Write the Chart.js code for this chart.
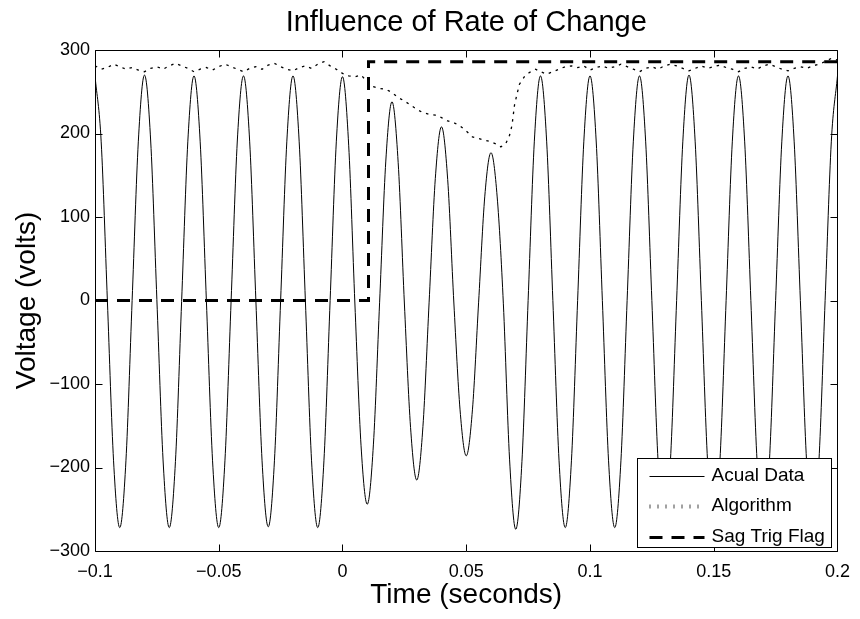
<!DOCTYPE html>
<html><head><meta charset="utf-8">
<script src="https://cdn.jsdelivr.net/npm/chart.js@4.4.0/dist/chart.umd.min.js"></script>
<style>html,body{margin:0;padding:0;background:#fff;}canvas{display:block;}</style>
</head><body>
<canvas id="c" width="860" height="619"></canvas>
<script>
const chartTitle = 'Influence of Rate of Change';
const xTitle = 'Time (seconds)';
const yTitle = 'Voltage (volts)';
const seriesNames = ['Acual Data', 'Algorithm', 'Sag Trig Flag'];
const xTickValues = [-0.1, -0.05, 0, 0.05, 0.1, 0.15, 0.2];
const yTickValues = [-300, -200, -100, 0, 100, 200, 300];

const actualTime = [
  -0.1,-0.0975,-0.095,-0.0925,-0.09,-0.0875,-0.085,-0.0825,
  -0.08,-0.0775,-0.075,-0.0725,-0.07,-0.0675,-0.065,-0.0625,
  -0.06,-0.0575,-0.055,-0.0525,-0.05,-0.0475,-0.045,-0.0425,
  -0.04,-0.0375,-0.035,-0.0325,-0.03,-0.0275,-0.025,-0.0225,
  -0.02,-0.0175,-0.015,-0.0125,-0.01,-0.0075,-0.005,-0.0025,
  0,0.0025,0.005,0.0075,0.01,0.0125,0.015,0.0175,
  0.02,0.0225,0.025,0.0275,0.03,0.0325,0.035,0.0375,
  0.04,0.0425,0.045,0.0475,0.05,0.0525,0.055,0.0575,
  0.06,0.0625,0.065,0.0675,0.07,0.0725,0.075,0.0775,
  0.08,0.0825,0.085,0.0875,0.09,0.0925,0.095,0.0975,
  0.1,0.1025,0.105,0.1075,0.11,0.1125,0.115,0.1175,
  0.12,0.1225,0.125,0.1275,0.13,0.1325,0.135,0.1375,
  0.14,0.1425,0.145,0.1475,0.15,0.1525,0.155,0.1575,
  0.16,0.1625,0.165,0.1675,0.17,0.1725,0.175,0.1775,
  0.18,0.1825,0.185,0.1875,0.19,0.1925,0.195,0.1975,
  0.2
];
const actualVoltage = [
  269,190,0,-192,-272,-192,0,190,
  270,191,1,-191,-272,-193,-1,190,
  269,190,0,-192,-272,-192,0,191,
  269,190,0,-192,-271,-192,0,190,
  269,190,0,-192,-272,-192,0,190,
  268,186,-3,-174,-244,-172,-2,167,
  238,165,-3,-152,-215,-151,-2,146,
  208,145,-3,-131,-186,-131,-2,125,
  177,124,-4,-190,-274,-193,0,190,
  269,190,0,-192,-272,-192,0,190,
  269,191,0,-192,-272,-192,0,190,
  269,190,0,-192,-272,-192,0,190,
  270,190,0,-192,-272,-192,0,190,
  269,190,0,-192,-272,-192,0,190,
  269,190,0,-192,-272,-192,0,190,
  269
];

const algTime = [
  -0.1,-0.0975,-0.095,-0.0925,-0.09,-0.0875,-0.085,-0.0825,
  -0.08,-0.0775,-0.075,-0.0725,-0.07,-0.0675,-0.065,-0.0625,
  -0.06,-0.0575,-0.055,-0.0525,-0.05,-0.0475,-0.045,-0.0425,
  -0.04,-0.0375,-0.035,-0.0325,-0.03,-0.0275,-0.025,-0.0225,
  -0.02,-0.0175,-0.015,-0.0125,-0.01,-0.0075,-0.005,-0.0025,
  0,0.0025,0.005,0.0075,0.01,0.0125,0.015,0.0175,
  0.02,0.0225,0.025,0.0275,0.03,0.0325,0.035,0.0375,
  0.04,0.0425,0.045,0.0475,0.05,0.0525,0.055,0.0575,
  0.06,0.0625,0.064,0.066,0.0675,0.0685,0.069,0.0695,
  0.0705,0.0715,0.0735,0.0755,0.078,0.08,0.0825,0.085,
  0.0875,0.09,0.0925,0.095,0.0975,0.1,0.1025,0.105,
  0.1075,0.11,0.1125,0.115,0.1175,0.12,0.1225,0.125,
  0.1275,0.13,0.1325,0.135,0.1375,0.14,0.1425,0.145,
  0.1475,0.15,0.1525,0.155,0.1575,0.16,0.1625,0.165,
  0.1675,0.17,0.1725,0.175,0.1775,0.18,0.1825,0.185,
  0.1875,0.19,0.1925,0.195,0.1975,0.2
];
const algVoltage = [
  281,277,279,283,280,277,279,276,
  274,278,280,277,281,284,281,278,
  274,277,279,276,280,283,280,277,
  274,278,280,277,282,284,280,277,
  275,279,281,278,283,286,281,277,
  272,269,268,270,262,256,254,253,
  249,243,239,234,229,225,223,222,
  219,215,213,209,203,196,194,192,
  190,187,184,188,198,210,222,234,
  247,259,268,273,277,274,271,274,
  277,280,281,279,281,276,279,281,
  278,280,283,280,277,274,278,280,
  277,281,283,281,278,275,278,281,
  278,280,282,279,277,274,278,280,
  277,281,283,280,277,275,278,280,
  278,281,283,286,290,288
];

const flagTime = [-0.1, 0.0105, 0.0105, 0.2];
const flagValue = [0, 0, 286, 286];

const FONT = '"Liberation Sans", Arial, Helvetica, sans-serif';
const fmt = v => {
  const r = Math.round(v * 10000) / 10000;
  return (r < 0 ? '\u2212' : '') + String(Math.abs(r));
};
const pts = (xs, ys) => xs.map((x, i) => ({x: x, y: ys[i]}));

const framePlugin = {
  id: 'frame',
  afterDraw(chart) {
    const {ctx, chartArea: a, scales} = chart;
    ctx.save();
    ctx.strokeStyle = '#000';
    ctx.lineWidth = 1;
    ctx.beginPath();
    const L = Math.round(a.left) + 0.5, R = Math.round(a.right) + 0.5;
    const T = Math.round(a.top) + 0.5, B = Math.round(a.bottom) + 0.5;
    ctx.rect(L, T, R - L, B - T);
    const tl = 7;
    xTickValues.forEach(v => {
      const px = Math.round(scales.x.getPixelForValue(v)) + 0.5;
      ctx.moveTo(px, B); ctx.lineTo(px, B - tl);
      ctx.moveTo(px, T); ctx.lineTo(px, T + tl);
    });
    yTickValues.forEach(v => {
      const py = Math.round(scales.y.getPixelForValue(v)) + 0.5;
      ctx.moveTo(L, py); ctx.lineTo(L + tl, py);
      ctx.moveTo(R, py); ctx.lineTo(R - tl, py);
    });
    ctx.stroke();
    ctx.restore();
  }
};

const legendPlugin = {
  id: 'boxLegend',
  afterDraw(chart) {
    const {ctx, chartArea: a} = chart;
    const x0 = Math.round(a.right - 200) + 0.5, x1 = Math.round(a.right - 6) + 0.5;
    const y0 = Math.round(a.bottom - 93) + 0.5, y1 = Math.round(a.bottom - 4) + 0.5;
    ctx.save();
    ctx.fillStyle = '#fff';
    ctx.fillRect(x0, y0, x1 - x0, y1 - y0);
    ctx.strokeStyle = '#000';
    ctx.lineWidth = 1;
    ctx.strokeRect(x0, y0, x1 - x0, y1 - y0);
    const rows = [17, 47.5, 78];
    chart.data.datasets.forEach((ds, i) => {
      const y = y0 + rows[i];
      ctx.save();
      ctx.strokeStyle = '#000';
      if (i === 1) {
        ctx.lineWidth = 4; ctx.setLineDash([1, 7]); ctx.strokeStyle = '#444';
      } else {
        ctx.lineWidth = ds.borderWidth; ctx.setLineDash(ds.borderDash || []);
      }
      ctx.beginPath();
      ctx.moveTo(x0 + 12, Math.round(y) + 0.5);
      ctx.lineTo(x0 + 67, Math.round(y) + 0.5);
      ctx.stroke();
      ctx.restore();
      ctx.fillStyle = '#000';
      ctx.font = '19px ' + FONT;
      ctx.textAlign = 'left';
      ctx.textBaseline = 'middle';
      ctx.fillText(ds.label, x0 + 74, y);
    });
    ctx.restore();
  }
};

new Chart(document.getElementById('c').getContext('2d'), {
  type: 'line',
  data: {
    datasets: [
      {label: seriesNames[0], data: pts(actualTime, actualVoltage), borderColor: '#000', borderWidth: 1,
       pointRadius: 0, cubicInterpolationMode: 'monotone', fill: false, order: 3},
      {label: seriesNames[1], data: pts(algTime, algVoltage), borderColor: '#000', borderWidth: 1.3,
       borderDash: [2.5, 5], pointRadius: 0, tension: 0, fill: false, order: 2},
      {label: seriesNames[2], data: pts(flagTime, flagValue), borderColor: '#000', borderWidth: 3,
       borderDash: [13, 9], pointRadius: 0, tension: 0, fill: false, order: 1}
    ]
  },
  options: {
    responsive: false,
    animation: false,
    devicePixelRatio: 1,
    layout: {padding: {left: 0, right: 17, top: 0, bottom: 0}},
    plugins: {
      legend: {display: false},
      tooltip: {enabled: false},
      title: {display: true, fullSize: false, text: chartTitle, color: '#000',
        font: {family: FONT, size: 29, weight: 'normal'}, padding: {top: 6, bottom: 9.2}}
    },
    scales: {
      x: {
        type: 'linear', min: -0.1, max: 0.2,
        afterBuildTicks: s => { s.ticks = xTickValues.map(v => ({value: v})); },
        afterFit: s => { s.height = 68; },
        grid: {display: false, drawTicks: false},
        border: {display: false},
        ticks: {callback: fmt, color: '#000', font: {family: FONT, size: 18}, padding: 10,
          maxRotation: 0, autoSkip: false},
        title: {display: true, text: xTitle, color: '#000', font: {family: FONT, size: 28},
          padding: {top: 0, bottom: 7}}
      },
      y: {
        type: 'linear', min: -300, max: 300,
        afterBuildTicks: s => { s.ticks = yTickValues.map(v => ({value: v})); },
        afterFit: s => { s.width = 95; },
        grid: {display: false, drawTicks: false},
        border: {display: false},
        ticks: {callback: fmt, color: '#000', font: {family: FONT, size: 18}, padding: 5,
          autoSkip: false},
        title: {display: true, text: yTitle, color: '#000', font: {family: FONT, size: 28},
          padding: {top: 10, bottom: 0}}
      }
    }
  },
  plugins: [framePlugin, legendPlugin]
});
</script>
</body></html>
